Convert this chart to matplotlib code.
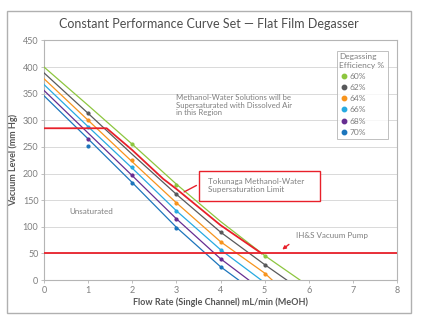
import matplotlib
matplotlib.use("Agg")
import matplotlib.pyplot as plt
from matplotlib.patches import Rectangle

plt.rcParams['font.family'] = ['Lato', 'DejaVu Sans']

# efficiency curves (fitted lines)
labels = ["60%", "62%", "64%", "66%", "68%", "70%"]
colors = ["#8dc63f", "#58595b", "#f7941d", "#27aae1", "#662d91", "#1c75bc"]

line_x = [
    [0, 1, 2, 3, 4, 5, 5.8],
    [0, 1, 2, 3, 4, 5, 5.5],
    [0, 1, 2, 3, 4, 5, 5.17],
    [0, 1, 2, 3, 4, 4.92],
    [0, 1, 2, 3, 4, 4.64],
    [0, 1, 2, 3, 4, 4.41],
]
line_y = [
    [400, 328, 255, 180, 110, 46, 0],
    [389, 313, 236, 161, 90, 29, 0],
    [378, 300, 222, 145, 72, 13, 0],
    [367, 288, 210, 130, 57, 0],
    [356, 276, 196, 115, 40, 0],
    [346, 265, 183, 99, 25, 0],
]

# measured points
pt_x = [
    [2, 3, 5],
    [1, 3, 4, 5],
    [1, 2, 3, 4, 5],
    [1, 2, 3, 4],
    [1, 2, 3, 4],
    [1, 2, 3, 4],
]
pt_y = [
    [255, 178, 45],
    [313, 162, 90, 28],
    [300, 225, 145, 72, 12],
    [287, 212, 130, 57],
    [265, 197, 115, 40],
    [252, 183, 98, 24],
]

# Tokunaga limit and vacuum pump
limit_x = [0, 1.42, 2, 2.7, 3, 4, 4.93]
limit_y = [285, 285, 244, 190, 171, 103, 50]
pump_level = 50

red = "#e8202a"
gray_txt = "#7f7f7f"

fig = plt.figure(figsize=(4.28, 3.23), dpi=100)
ax = fig.add_axes([44 / 428, 43 / 323, 353 / 428, 239.6 / 323])

# outer frame
fig.patches.append(Rectangle((7 / 428, 10 / 323), 404 / 428, 302 / 323,
                             transform=fig.transFigure, fill=False,
                             edgecolor="#b0b0b0", linewidth=1.0))

for xs, ys, c in zip(line_x, line_y, colors):
    ax.plot(xs, ys, color=c, linewidth=0.9, zorder=3)
for xs, ys, c in zip(pt_x, pt_y, colors):
    ax.plot(xs, ys, "o", color=c, markersize=2.0, zorder=4)

ax.plot(limit_x, limit_y, color=red, linewidth=1.3, zorder=5)
ax.axhline(pump_level, color=red, linewidth=1.3, zorder=5)

ax.set_xlim(0, 8)
ax.set_ylim(0, 450)
ax.set_xticks(range(0, 9))
ax.set_yticks(range(0, 451, 50))
ax.grid(axis="y", color="#d9d9d9", linewidth=0.7)
ax.set_axisbelow(True)
for s in ax.spines.values():
    s.set_color("#b5b5b5")
    s.set_linewidth(0.8)
ax.tick_params(axis="both", labelsize=6.5, colors="#b5b5b5", labelcolor=gray_txt,
               length=2, width=0.6, pad=2)

ax.set_xlabel("Flow Rate (Single Channel) mL/min (MeOH)", fontsize=6.5,
              fontweight="bold", color="#555555", labelpad=2)
ax.set_ylabel("Vacuum Level (mm Hg)", fontsize=6.5, fontweight="bold",
              color="#555555", labelpad=3)
fig.text(0.488, 0.925, "Constant Performance Curve Set \u2014 Flat Film Degasser",
         ha="center", va="center", fontsize=9, color="#4d4d4d")

# legend
handles = [plt.Line2D([], [], marker="o", linestyle="none", color=c, markersize=3.2)
           for c in colors]
leg = ax.legend(handles, labels, title="Degassing\nEfficiency %", loc="upper right",
                bbox_to_anchor=(0.985, 0.975), fontsize=6, title_fontsize=6,
                frameon=True, fancybox=False, handletextpad=0.2,
                handlelength=1.0, labelspacing=0.5, borderpad=0.35)
leg._legend_box.align = "left"
leg.get_frame().set_edgecolor("#b0b0b0")
leg.get_frame().set_linewidth(0.7)
for t in leg.get_texts():
    t.set_color(gray_txt)
leg.get_title().set_color(gray_txt)

# annotations
ax.text(2.99, 350, "Methanol-Water Solutions will be\nSupersaturated with Dissolved Air\nin this Region",
        fontsize=5.6, color=gray_txt, va="top", ha="left", linespacing=1.15)
ax.text(0.58, 128, "Unsaturated", fontsize=5.8, color=gray_txt, va="center")

ax.add_patch(Rectangle((3.51, 148), 2.75, 57, fill=True, facecolor="white",
                       edgecolor=red, linewidth=1.0, zorder=6))
ax.text(3.72, 177, "Tokunaga Methanol-Water\nSupersaturation Limit", fontsize=5.8,
        color=gray_txt, va="center", ha="left", linespacing=1.1, zorder=7)
ax.annotate("", xy=(3.12, 163), xytext=(3.51, 180),
            arrowprops=dict(arrowstyle="-", color=red, linewidth=1.0), zorder=6)

ax.text(5.72, 83, "IH&S Vacuum Pump", fontsize=5.8, color=gray_txt, va="center")
ax.annotate("", xy=(5.35, 54), xytext=(5.6, 70),
            arrowprops=dict(arrowstyle="-|>", color=red, linewidth=1.0,
                            mutation_scale=5))

fig.savefig("out.png", dpi=100)
